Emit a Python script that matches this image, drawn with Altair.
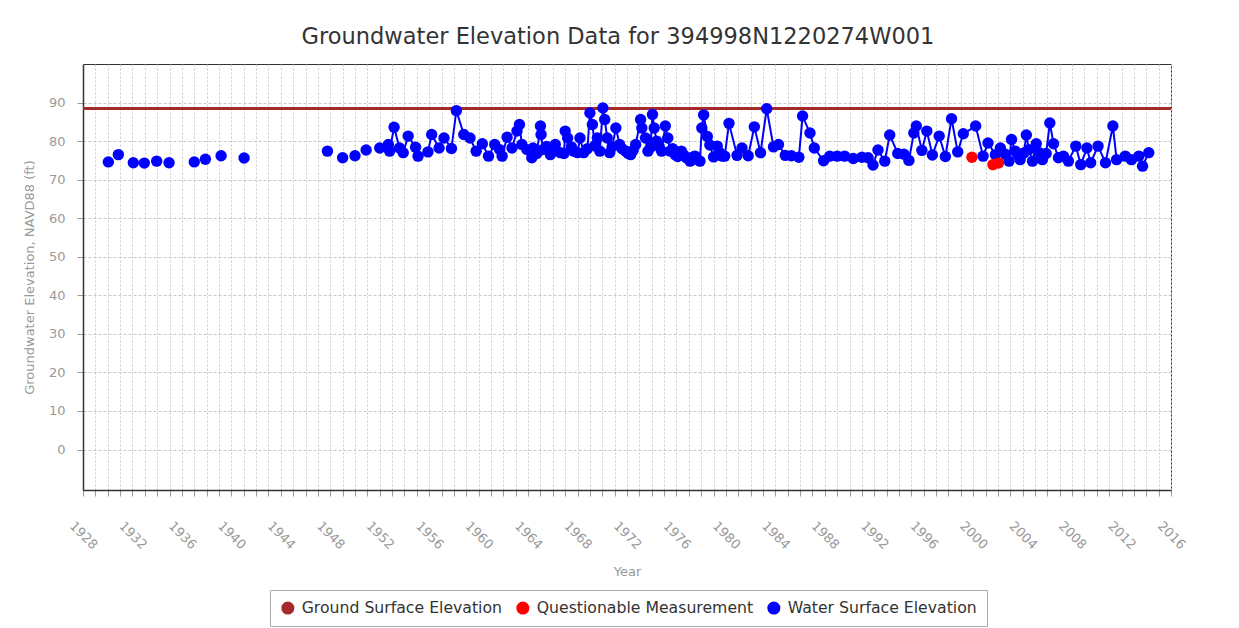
import altair as alt
import pandas as pd

title_text = "Groundwater Elevation Data for 394998N1220274W001"
series_names = ["Ground Surface Elevation", "Questionable Measurement", "Water Surface Elevation"]
series_colors = ["#A52A2A", "#FF0000", "#0000FF"]
ground_elev = [88.45]

# isolated early measurements (not joined by the line)
early_years = [1930.05, 1930.86, 1932.07, 1932.96, 1933.96, 1934.96, 1937.0, 1937.9,
               1939.17, 1941.03, 1947.77, 1949.0, 1950.0, 1950.9]
early_vals = [74.6, 76.5, 74.4, 74.3, 74.8, 74.4, 74.6, 75.3,
              76.2, 75.6, 77.4, 75.7, 76.2, 77.7]

# continuous record (joined by the line)
main_years = [
    1952.0, 1952.7, 1952.8, 1953.16, 1953.6, 1953.9, 1954.3, 1954.9, 1955.1, 1955.9,
    1956.2, 1956.8, 1957.2, 1957.8, 1958.2, 1958.8, 1959.3, 1959.8, 1960.3, 1960.8,
    1961.3, 1961.7, 1961.9, 1962.3, 1962.7, 1963.1, 1963.3, 1963.5, 1963.9, 1964.3,
    1964.4, 1964.7, 1965.0, 1965.05, 1965.2, 1965.5, 1965.8, 1966.0, 1966.2, 1966.6,
    1966.9, 1967.0, 1967.2, 1967.5, 1967.7, 1968.0, 1968.2, 1968.5, 1968.8, 1969.0,
    1969.2, 1969.4, 1969.6, 1969.8, 1970.05, 1970.2, 1970.4, 1970.6, 1970.8, 1971.1,
    1971.4, 1971.6, 1971.9, 1972.1, 1972.3, 1972.5, 1972.7, 1973.1, 1973.2, 1973.5,
    1973.7, 1973.9, 1974.06, 1974.2, 1974.4, 1974.6, 1974.8, 1975.1, 1975.3, 1975.5,
    1975.7, 1975.9, 1976.1, 1976.4, 1976.6, 1976.8, 1977.1, 1977.3, 1977.5, 1977.7,
    1977.9, 1978.05, 1978.2, 1978.5, 1978.7, 1979.0, 1979.3, 1979.5, 1979.7, 1979.9,
    1980.25, 1980.9, 1981.3, 1981.8, 1982.3, 1982.8, 1983.3, 1983.85, 1984.25, 1984.8,
    1985.3, 1985.9, 1986.2, 1986.8, 1987.15, 1987.9, 1988.4, 1989.0, 1989.6, 1990.3,
    1991.0, 1991.5, 1991.9, 1992.3, 1992.85, 1993.25, 1993.9, 1994.4, 1994.8, 1995.2,
    1995.4, 1995.85, 1996.25, 1996.7, 1997.25, 1997.75, 1998.25, 1998.75, 1999.2, 2000.2,
    2000.8, 2001.2, 2001.8, 2002.2, 2002.6, 2002.9, 2003.1, 2003.4, 2003.6, 2003.8,
    2004.1, 2004.3, 2004.5, 2004.8, 2005.1, 2005.35, 2005.6, 2005.9, 2006.2, 2006.5,
    2006.9, 2007.3, 2007.7, 2008.3, 2008.7, 2009.2, 2009.5, 2010.1, 2010.7, 2011.3,
    2011.6, 2012.3, 2012.8, 2013.4, 2013.7, 2014.2]
main_vals = [
    78.2, 79.1, 77.4, 83.6, 78.2, 77.0, 81.3, 78.4, 76.1, 77.2,
    81.7, 78.2, 80.8, 78.1, 87.9, 81.7, 80.8, 77.4, 79.3, 76.1,
    79.1, 77.8, 76.1, 81.0, 78.2, 82.6, 84.3, 79.1, 77.8, 75.7,
    78.2, 76.8, 83.9, 81.7, 77.8, 78.6, 76.5, 77.6, 79.1, 77.0,
    76.8, 82.6, 80.8, 78.5, 77.4, 77.0, 80.8, 77.0, 78.0, 87.3,
    84.3, 78.8, 80.8, 77.4, 88.6, 85.6, 80.8, 77.0, 78.5, 83.4,
    79.1, 78.0, 77.4, 76.8, 76.5, 77.6, 79.1, 85.6, 83.4, 80.8,
    77.4, 78.4, 86.9, 83.4, 80.0, 78.6, 77.4, 83.9, 80.8, 77.4,
    78.0, 76.5, 76.0, 77.4, 76.4, 75.7, 74.8, 75.8, 76.1, 75.2,
    74.8, 83.4, 86.8, 81.2, 79.0, 75.9, 78.7, 77.0, 76.1, 76.1,
    84.6, 76.3, 78.2, 76.2, 83.7, 77.0, 88.4, 78.5, 79.1, 76.3,
    76.2, 75.8, 86.5, 82.1, 78.2, 74.9, 76.1, 76.1, 76.1, 75.5,
    75.8, 75.7, 73.8, 77.7, 74.8, 81.6, 76.8, 76.6, 75.0, 82.1,
    83.9, 77.6, 82.6, 76.4, 81.3, 76.0, 85.8, 77.2, 81.9, 83.9,
    76.1, 79.5, 76.5, 78.2, 76.6, 74.8, 80.4, 77.4, 76.6, 75.2,
    76.9, 81.6, 77.8, 74.8, 79.3, 77.0, 75.2, 76.8, 84.7, 79.3,
    75.7, 76.1, 74.8, 78.7, 73.9, 78.2, 74.4, 78.7, 74.4, 83.9,
    75.2, 76.1, 75.2, 76.1, 73.5, 77.0]

# questionable measurements
q_years = [1999.9, 2001.6, 2002.05]
q_vals = [75.8, 73.9, 74.3]

rows = []
for yr, v in zip(early_years, early_vals):
    rows.append({"year": yr, "value": v, "series": series_names[2], "connected": False})
for yr, v in zip(main_years, main_vals):
    rows.append({"year": yr, "value": v, "series": series_names[2], "connected": True})
for yr, v in zip(q_years, q_vals):
    rows.append({"year": yr, "value": v, "series": series_names[1], "connected": False})
df = pd.DataFrame(rows)
ground_df = pd.DataFrame({"value": ground_elev, "series": [series_names[0]]})

FONT = "DejaVu Sans"
x_scale = alt.Scale(domain=[1928, 2016], nice=False, zero=False)
y_scale = alt.Scale(domain=[-10.5, 100], nice=False, zero=False)
color_scale = alt.Scale(domain=series_names, range=series_colors)

x_axis = alt.Axis(
    title="Year", values=list(range(1928, 2017)), format="d",
    labelExpr="datum.value % 4 == 0 ? datum.label : ''",
    labelAngle=45, labelAlign="center", labelBaseline="middle", labelPadding=39,
    labelOverlap=False, labelFontSize=13, labelColor="#999999", labelFont=FONT,
    tickColor="#999999", tickSize=6, grid=True, gridColor="#cccccc", gridDash=[2, 2],
    domainColor="#333333", domainWidth=1.5,
    titleColor="#999999", titleFontSize=13, titleFontWeight="normal", titleFont=FONT,
    titlePadding=14)
y_axis = alt.Axis(
    title="Groundwater Elevation, NAVD88 (ft)", values=list(range(0, 100, 10)),
    labelFontSize=13, labelColor="#999999", labelFont=FONT, labelPadding=12,
    tickColor="#999999", tickSize=6, grid=True, gridColor="#c8c8c8", gridDash=[3, 2],
    domainColor="#333333", domainWidth=1.5,
    titleColor="#999999", titleFontSize=13, titleFontWeight="normal", titleFont=FONT,
    titlePadding=12)

legend = alt.Legend(
    title=None, orient="none", legendX=187, legendY=526, direction="horizontal",
    symbolType="circle", symbolSize=170, symbolStrokeWidth=0, labelFontSize=15.7,
    labelColor="#333333", labelFont=FONT, labelLimit=0, strokeColor="#aaaaaa",
    padding=10, columnPadding=12, labelOffset=6, fillColor="white")

W, H = 1088, 426

ground = alt.Chart(ground_df).mark_rule(strokeWidth=3).encode(
    y=alt.Y("value:Q", scale=y_scale, axis=y_axis),
    color=alt.Color("series:N", scale=color_scale, legend=legend),
)

line = alt.Chart(df).transform_filter("datum.connected").mark_line(
    color="#0000FF", strokeWidth=2).encode(
    x=alt.X("year:Q", scale=x_scale, axis=x_axis),
    y=alt.Y("value:Q", scale=y_scale, axis=y_axis),
)

points = alt.Chart(df).mark_circle(size=130, opacity=1).encode(
    x=alt.X("year:Q", scale=x_scale, axis=x_axis),
    y=alt.Y("value:Q", scale=y_scale, axis=y_axis),
    color=alt.Color("series:N", scale=color_scale, legend=legend),
    order=alt.Order("series:N", sort="descending"),
)

chart = alt.layer(ground, line, points).properties(
    width=W, height=H,
    title=alt.TitleParams(title_text, fontSize=22.5, color="#333333", font=FONT,
                          fontWeight="normal", offset=16, anchor="middle", dx=-9),
    padding={"left": 15, "top": 17, "right": 10, "bottom": 5},
    background="white",
).configure_view(stroke="#333333", strokeWidth=1)

chart.save("out.html", embed_options={"renderer": "svg", "actions": False})
